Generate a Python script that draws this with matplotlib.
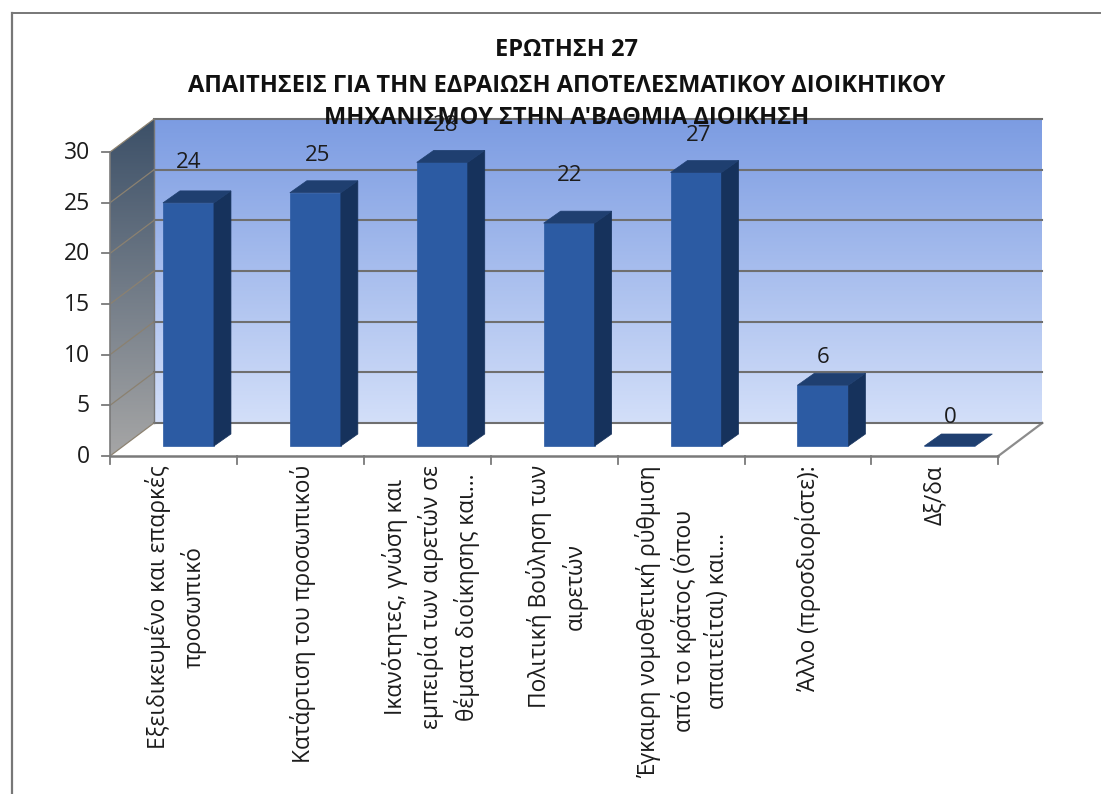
import numpy as np
import matplotlib
matplotlib.use("Agg")
import matplotlib.pyplot as plt
from matplotlib.patches import Polygon

plt.rcParams['font.family'] = ['Open Sans', 'DejaVu Sans']

# data
categories = [
    "Εξειδικευμένο και επαρκές\nπροσωπικό",
    "Κατάρτιση του προσωπικού",
    "Ικανότητες, γνώση και\nεμπειρία των αιρετών σε\nθέματα διοίκησης και...",
    "Πολιτική Βούληση των\nαιρετών",
    "Έγκαιρη νομοθετική ρύθμιση\nαπό το κράτος (όπου\nαπαιτείται) και...",
    "Άλλο (προσδιορίστε):",
    "Δξ/δα",
]
values = [24, 25, 28, 22, 27, 6, 0]
y_ticks = [0, 5, 10, 15, 20, 25, 30]
title_lines = [
    "ΕΡΩΤΗΣΗ 27",
    "ΑΠΑΙΤΗΣΕΙΣ ΓΙΑ ΤΗΝ ΕΔΡΑΙΩΣΗ ΑΠΟΤΕΛΕΣΜΑΤΙΚΟΥ ΔΙΟΙΚΗΤΙΚΟΥ",
    "ΜΗΧΑΝΙΣΜΟΥ ΣΤΗΝ Α'ΒΑΘΜΙΑ ΔΙΟΙΚΗΣΗ",
]

# how far each value label sits above its bar, the original has them uneven
label_gaps = [4.0, 3.7, 3.6, 4.7, 3.7, 2.7, 2.8]
label_shift = [0.0, 0.02, 0.03, 0.0, 0.02, 0.0, 0.0]
xlabel_shift = [0.02, 0.02, 0.03, 0.02, 0.01, 0.0, 0.0]

W, H = 1110, 794
x0_px, step_px = 110, 126.9
y0_px, unit_px = 456, 10.13

fig = plt.figure(figsize=(W / 100, H / 100), dpi=100)
ax = fig.add_axes([0, 0, 1, 1])
ax.set_xlim((0 - x0_px) / step_px - 0.5, (W - x0_px) / step_px - 0.5)
ax.set_ylim((y0_px - H) / unit_px, y0_px / unit_px)
ax.axis('off')

n = len(categories)
left, right = -0.5, n - 0.5
top = max(y_ticks)
# wall depth and bar sizes in data units
wall_dx, wall_dy = 44 / step_px, 33 / unit_px
bar_w = 51 / step_px
bar_off = 15 / step_px
bar_lift = 10 / unit_px
bar_dx, bar_dy = 17 / step_px, 12 / unit_px


def gradient(poly, c_top, c_bottom, ymin, ymax, xmin, xmax, z):
    c1 = np.array(matplotlib.colors.to_rgb(c_top))
    c2 = np.array(matplotlib.colors.to_rgb(c_bottom))
    t = np.linspace(0, 1, 256)[:, None, None]
    img = c1[None, None, :] * (1 - t) + c2[None, None, :] * t
    im = ax.imshow(img, extent=[xmin, xmax, ymin, ymax], aspect='auto', zorder=z, origin='upper')
    patch = Polygon(poly, transform=ax.transData, facecolor='none', edgecolor='none')
    ax.add_patch(patch)
    im.set_clip_path(patch)


# back wall
back = [(left + wall_dx, wall_dy), (right + wall_dx, wall_dy),
        (right + wall_dx, top + wall_dy), (left + wall_dx, top + wall_dy)]
gradient(back, '#7c9ce2', '#d3dff9', wall_dy, top + wall_dy, left + wall_dx, right + wall_dx, 1)

# side wall
side = [(left, 0), (left + wall_dx, wall_dy), (left + wall_dx, top + wall_dy), (left, top)]
gradient(side, '#3c5068', '#a6a6a6', 0, top + wall_dy, left, left + wall_dx, 1)

# floor
floor = [(left, 0), (left + wall_dx, wall_dy), (right + wall_dx, wall_dy), (right, 0)]
ax.add_patch(Polygon(floor, facecolor='white', edgecolor='none', zorder=1.5))
ax.plot([right, right + wall_dx], [0, wall_dy], color='#8c8c8c', lw=1.6, zorder=2)

# gridlines
for t in y_ticks:
    ax.plot([left + wall_dx, right + wall_dx], [t + wall_dy, t + wall_dy], color='#6f6f6f', lw=1.5, zorder=2)
    ax.plot([left, left + wall_dx], [t, t + wall_dy], color='#8b8170', lw=0.9, zorder=2)
ax.plot([left + wall_dx, left + wall_dx], [wall_dy, top + wall_dy], color='#777777', lw=1.0, zorder=2)

# axes lines and ticks
ax.plot([left, right], [0, 0], color='#7a7a7a', lw=1.8, zorder=3)
ax.plot([left, left], [0, top], color='#7a7a7a', lw=1.2, zorder=3)
for t in y_ticks:
    ax.plot([left - 8 / step_px, left], [t, t], color='#7a7a7a', lw=1.3, zorder=3)
    ax.text(left - 20 / step_px, t - 0.1, str(t), ha='right', va='center', fontsize=16.5, color='#1c1c1c', zorder=6)
for i in range(n + 1):
    ax.plot([i - 0.5, i - 0.5], [0, -8 / unit_px], color='#7a7a7a', lw=1.3, zorder=3)

# bars
xs = np.arange(n) + bar_off
ax.bar(xs, values, width=bar_w, bottom=bar_lift, color='#2c5ba3', edgecolor='#2c5ba3', lw=0.5, zorder=4)
for x, v in zip(xs, values):
    l, r = x - bar_w / 2, x + bar_w / 2
    b, tp = bar_lift, bar_lift + v
    if v > 0:
        ax.add_patch(Polygon([(r, b), (r + bar_dx, b + bar_dy), (r + bar_dx, tp + bar_dy), (r, tp)],
                             facecolor='#16325c', edgecolor='#16325c', lw=0.5, zorder=4))
    ax.add_patch(Polygon([(l, tp), (l + bar_dx, tp + bar_dy), (r + bar_dx, tp + bar_dy), (r, tp)],
                         facecolor='#1f3f70', edgecolor='#1f3f70', lw=0.5, zorder=4))

# value labels
for x, v, gap, sh in zip(xs, values, label_gaps, label_shift):
    ax.text(x + sh, bar_lift + v + gap, str(v), ha='center', va='center', fontsize=16, color='#1c1c1c', zorder=5)

# category labels
for i, lab in enumerate(categories):
    ax.text(i + xlabel_shift[i], -0.9, lab, rotation=90, ha='center', va='top', multialignment='center',
            fontsize=16.4, color='#1c1c1c', linespacing=1.5, zorder=6)

# title
for txt, py in zip(title_lines, [50, 86, 118]):
    ax.text(3.1, (y0_px - py) / unit_px, txt, ha='center', va='center', fontsize=17,
            fontweight='bold', color='#111111', zorder=7)

# scanned frame
ax.plot([(12 - x0_px) / step_px - 0.5] * 2, [(y0_px - 794) / unit_px, (y0_px - 13) / unit_px], color='#777777', lw=1.6, zorder=8)
ax.plot([(12 - x0_px) / step_px - 0.5, (1100 - x0_px) / step_px - 0.5], [(y0_px - 13) / unit_px] * 2, color='#777777', lw=1.4, zorder=8)

fig.savefig('out.png', dpi=100)
